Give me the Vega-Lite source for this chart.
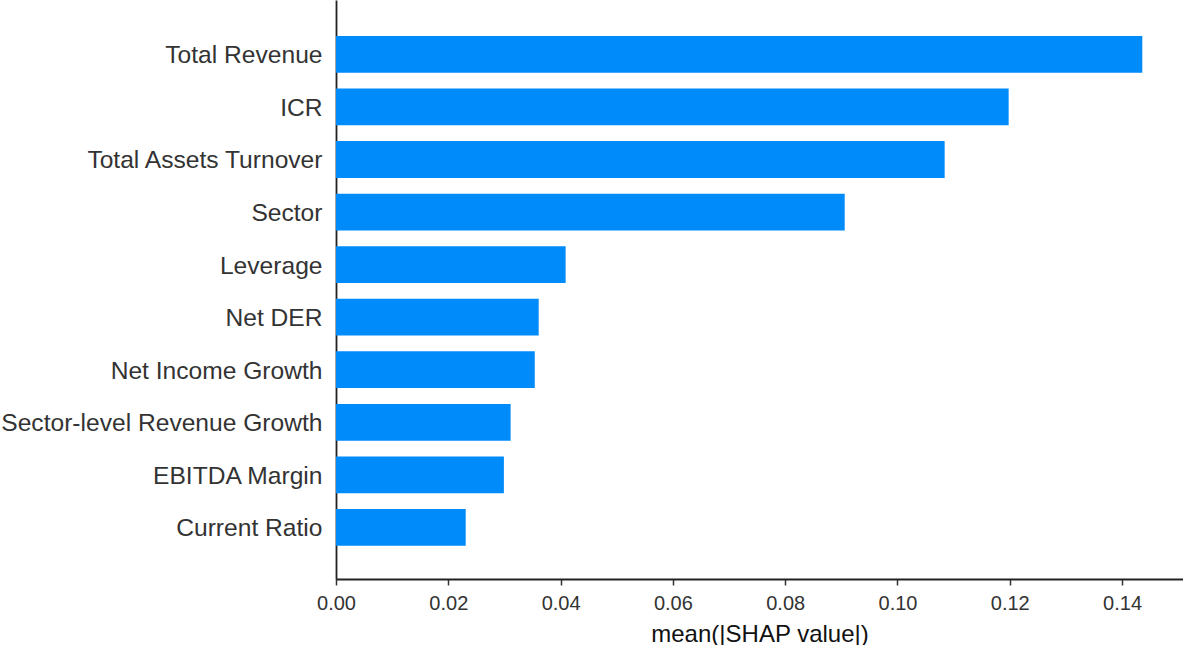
{
  "$schema": "https://vega.github.io/schema/vega-lite/v6.json",
  "autosize": {"type": "none"},
  "padding": {"left": 336, "top": 0, "right": 0, "bottom": 66},
  "width": 847,
  "height": 579,
  "background": "white",
  "data": {
    "values": [
      {"feature": "Total Revenue", "shap": 0.1436},
      {"feature": "ICR", "shap": 0.1198},
      {"feature": "Total Assets Turnover", "shap": 0.1084},
      {"feature": "Sector", "shap": 0.0906},
      {"feature": "Leverage", "shap": 0.0409},
      {"feature": "Net DER", "shap": 0.0361},
      {"feature": "Net Income Growth", "shap": 0.0354},
      {"feature": "Sector-level Revenue Growth", "shap": 0.0311},
      {"feature": "EBITDA Margin", "shap": 0.0299},
      {"feature": "Current Ratio", "shap": 0.0231}
    ]
  },
  "config": {
    "view": {"stroke": null},
    "font": "Liberation Sans"
  },
  "mark": {"type": "bar", "color": "#008bfb"},
  "encoding": {
    "y": {
      "field": "feature",
      "type": "nominal",
      "sort": null,
      "scale": {"paddingInner": 0.3, "paddingOuter": 0.658, "align": 0.52},
      "axis": {
        "title": null,
        "ticks": false,
        "tickSize": 0,
        "labelPadding": 14,
        "labelOffset": 2,
        "labelFontSize": 24.6,
        "labelColor": "#333333",
        "labelFont": "Liberation Sans",
        "labelLimit": 400,
        "domainColor": "#222222",
        "domainWidth": 1.8,
        "grid": false
      }
    },
    "x": {
      "field": "shap",
      "type": "quantitative",
      "scale": {"domain": [0, 0.15085], "nice": false, "zero": true},
      "axis": {
        "title": "mean(|SHAP value|)",
        "values": [0, 0.02, 0.04, 0.06, 0.08, 0.1, 0.12, 0.14],
        "format": ".2f",
        "grid": false,
        "tickSize": 6,
        "tickWidth": 1.5,
        "tickColor": "#333333",
        "labelPadding": 8,
        "labelFontSize": 20,
        "labelColor": "#333333",
        "labelFont": "Liberation Sans",
        "labelFlush": false,
        "domainColor": "#222222",
        "domainWidth": 1.8,
        "titleFontSize": 24,
        "titleFontWeight": "normal",
        "titleFont": "Liberation Sans",
        "titleColor": "#111111",
        "titleBaseline": "alphabetic",
        "titleY": 62
      }
    }
  }
}
